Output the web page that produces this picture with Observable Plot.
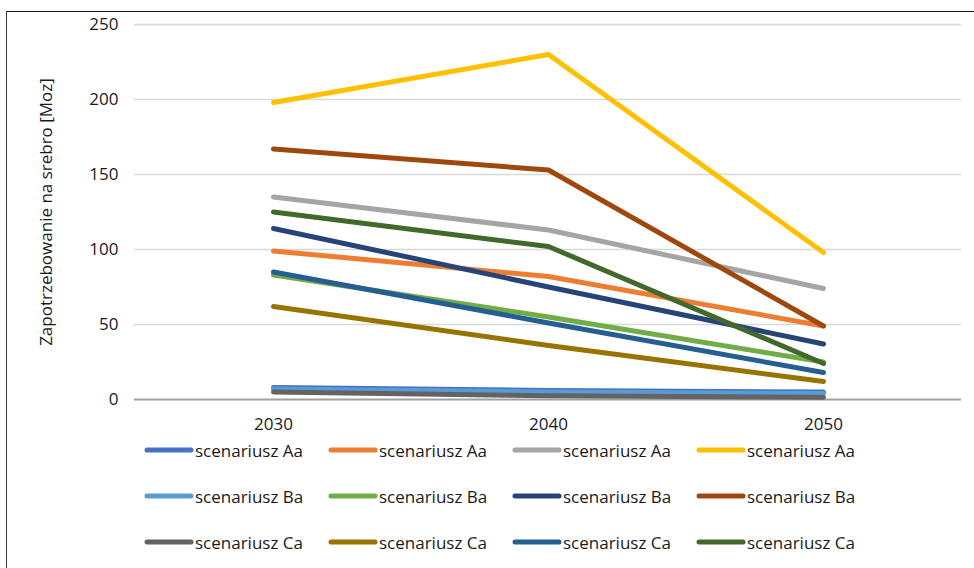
<!DOCTYPE html>
<html>
<head>
<meta charset="utf-8">
<script src="https://cdn.jsdelivr.net/npm/d3@7"></script>
<script src="https://cdn.jsdelivr.net/npm/@observablehq/plot@0.6"></script>
<style>
  html, body { margin: 0; padding: 0; background: #fff; }
  #chart { position: relative; width: 974px; height: 568px; overflow: hidden; background: #fff;
           font-family: "Open Sans", sans-serif; color: #1a1a1a; }
  #frame { position: absolute; left: 6px; top: 11px; right: -10px; bottom: -10px;
           border-left: 1.5px solid #3a3a3a; border-top: 1px solid #1a1a1a; pointer-events: none; }
  #plot { position: absolute; left: 0; top: 0; }
  #legend { position: absolute; left: 144px; top: 427px; display: grid;
            grid-template-columns: repeat(4, 184px); grid-auto-rows: 46px; }
  .item { display: flex; align-items: center; font-size: 17px; white-space: nowrap; }
  .item svg { margin-right: 1px; flex: none; }
</style>
</head>
<body>
<div id="chart">
  <div id="frame"></div>
  <div id="plot"></div>
  <div id="legend"></div>
</div>
<script>
// Silver demand by scenario, in Moz
const years = ["2030", "2040", "2050"];
const seriesNames = [
  "scenariusz Aa", "scenariusz Aa", "scenariusz Aa", "scenariusz Aa",
  "scenariusz Ba", "scenariusz Ba", "scenariusz Ba", "scenariusz Ba",
  "scenariusz Ca", "scenariusz Ca", "scenariusz Ca", "scenariusz Ca"
];
const seriesValues = [
  [8, 6, 5],
  [99, 82, 49],
  [135, 113, 74],
  [198, 230, 98],
  [7, 5, 4],
  [83, 55, 25],
  [114, 75, 37],
  [167, 153, 49],
  [5, 2.5, 1.5],
  [62, 36, 12],
  [85, 51, 18],
  [125, 102, 24]
];
const seriesColors = [
  "#4472C4", "#ED7D31", "#A5A5A5", "#FFC000",
  "#5B9BD5", "#70AD47", "#264478", "#9E480E",
  "#636363", "#997300", "#255E91", "#43682B"
];
const yTicks = [0, 50, 100, 150, 200, 250];
const yLabel = "Zapotrzebowanie na srebro [Moz]";

// one row per point, keyed by series index so same-named series stay separate
const rows = seriesValues.flatMap((vals, i) =>
  vals.map((v, j) => ({ series: i, year: years[j], value: v }))
);

const plot = Plot.plot({
  width: 974,
  height: 432,
  marginLeft: 134,
  marginRight: 13,
  marginTop: 24,
  marginBottom: 33,
  style: { fontFamily: "Open Sans, sans-serif", fontSize: "17px", color: "#1a1a1a", background: "transparent", overflow: "visible" },
  x: { type: "point", domain: years, padding: 0.5 },
  y: { domain: [0, 250] },
  color: { type: "ordinal", domain: d3.range(seriesColors.length), range: seriesColors },
  marks: [
    Plot.gridY(yTicks.filter(t => t > 0), { stroke: "#d9d9d9", strokeOpacity: 1, strokeWidth: 1.5 }),
    Plot.ruleY([0], { stroke: "#a0a0a0", strokeWidth: 2 }),
    Plot.axisY({ ticks: yTicks, tickSize: 0, tickPadding: 16, label: null }),
    Plot.axisX({ tickSize: 0, tickPadding: 18, label: null }),
    Plot.text([yLabel], {
      frameAnchor: "left", dx: -88, rotate: -90, textAnchor: "middle",
      fontSize: 17, fill: "#1a1a1a"
    }),
    Plot.line(rows, {
      x: "year", y: "value", z: "series", stroke: "series",
      strokeWidth: 5, strokeLinecap: "round", strokeLinejoin: "round"
    })
  ]
});
document.getElementById("plot").appendChild(plot);

// legend: 3 rows of 4 entries
const legend = document.getElementById("legend");
seriesNames.forEach((name, i) => {
  const item = document.createElement("div");
  item.className = "item";
  item.innerHTML = `<svg width="50" height="10"><line x1="3" y1="5" x2="47" y2="5" stroke="${seriesColors[i]}" stroke-width="5" stroke-linecap="round"/></svg><span>${name}</span>`;
  legend.appendChild(item);
});
</script>
</body>
</html>
